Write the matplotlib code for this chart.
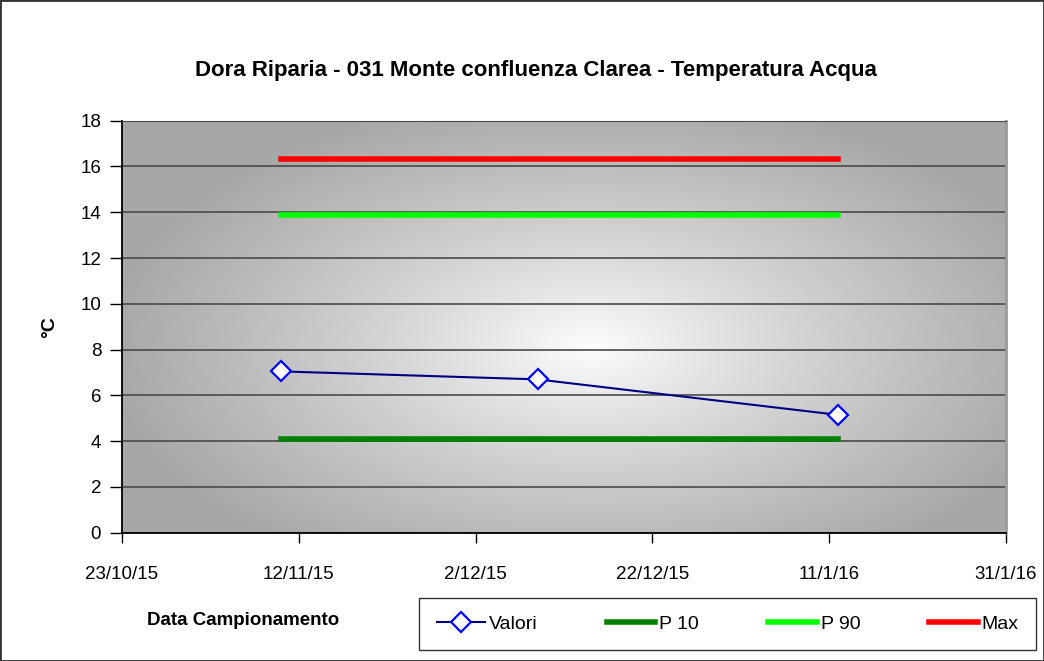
import datetime as dt

import matplotlib
matplotlib.use("Agg")
import matplotlib.pyplot as plt
import matplotlib.dates as mdates
import numpy as np
from matplotlib.patches import Rectangle
from matplotlib.ticker import FuncFormatter

plt.rcParams['font.family'] = ['Liberation Sans', 'DejaVu Sans']

# data
dates = [dt.date(2015, 11, 10), dt.date(2015, 12, 9), dt.date(2016, 1, 12)]
valori = [7.05, 6.7, 5.15]
p10 = [4.1, 4.1, 4.1]
p90 = [13.9, 13.9, 13.9]
vmax = [16.33, 16.33, 16.33]

x_start = dt.date(2015, 10, 23)
x_end = dt.date(2016, 1, 31)
tick_dates = [x_start + dt.timedelta(days=20 * i) for i in range(6)]

fig = plt.figure(figsize=(10.44, 6.61), dpi=100)
ax = fig.add_axes([0.1169, 0.194, 0.8467, 0.6234])

# radial grey gradient background
yy, xx = np.mgrid[0:1:300j, 0:1:400j]
r = np.sqrt(((xx - 0.53) / 0.55) ** 2 + ((yy - 0.45) / 0.62) ** 2)
t = np.clip(r, 0, 1) ** 0.85
g = 1.0 * (1 - t) + 0.655 * t
img = np.dstack([g, g, g])
ax.imshow(img, extent=[0, 1, 0, 1], transform=ax.transAxes, origin='lower',
          aspect='auto', zorder=0, interpolation='bilinear')

ax.yaxis.grid(True, color='#4a4a4a', linewidth=1.2, zorder=1)
ax.set_axisbelow(True)

ax.plot(dates, p10, color='#008000', linewidth=4, solid_capstyle='projecting', label='P 10', zorder=3)
ax.plot(dates, p90, color='#00FF00', linewidth=4, solid_capstyle='projecting', label='P 90', zorder=3)
ax.plot(dates, vmax, color='#FF0000', linewidth=4, solid_capstyle='projecting', label='Max', zorder=3)
ax.plot(dates, valori, color='#000080', linewidth=1.5, marker='D', markersize=10,
        markerfacecolor='white', markeredgecolor='#0000FF', markeredgewidth=1.6,
        label='Valori', zorder=4)

ax.set_xlim(x_start, x_end)
ax.set_ylim(0, 18)
ax.set_yticks(range(0, 19, 2))
ax.set_xticks(tick_dates)
ax.xaxis.set_major_formatter(FuncFormatter(
    lambda v, pos: f"{mdates.num2date(v).day}/{mdates.num2date(v).month}/{mdates.num2date(v).strftime('%y')}"))

ax.tick_params(axis='y', direction='out', length=9, width=1, labelsize=13.5, pad=6)
ax.tick_params(axis='x', direction='out', length=7, width=1, labelsize=13.5, pad=17)

ax.spines['top'].set_color('#4a4a4a')
ax.spines['right'].set_color('#9a9a9a')
ax.spines['right'].set_linewidth(2)
ax.spines['left'].set_linewidth(1.3)
ax.spines['bottom'].set_linewidth(1.3)

ax.set_ylabel('°C', fontsize=14, fontweight='bold', labelpad=16)

fig.text(0.513, 0.893, 'Dora Riparia - 031 Monte confluenza Clarea - Temperatura Acqua',
         ha='center', va='center', fontsize=16, fontweight='bold')
fig.text(0.233, 0.062, 'Data Campionamento', ha='center', va='center',
         fontsize=13.5, fontweight='bold')

handles, labels = ax.get_legend_handles_labels()
order = [3, 0, 1, 2]
leg = fig.legend([handles[i] for i in order], [labels[i] for i in order],
                 loc='center', bbox_to_anchor=(0.697, 0.056), ncol=4,
                 fontsize=14, frameon=True, fancybox=False, edgecolor='black',
                 handlelength=2.5, handletextpad=0.2, columnspacing=3.55,
                 borderpad=0.9, borderaxespad=0)
leg.get_frame().set_linewidth(1)

fig.patches.append(Rectangle((0, 0), 1, 1, transform=fig.transFigure, fill=False,
                             edgecolor='#333333', linewidth=2))

fig.savefig('out.png', dpi=100)
